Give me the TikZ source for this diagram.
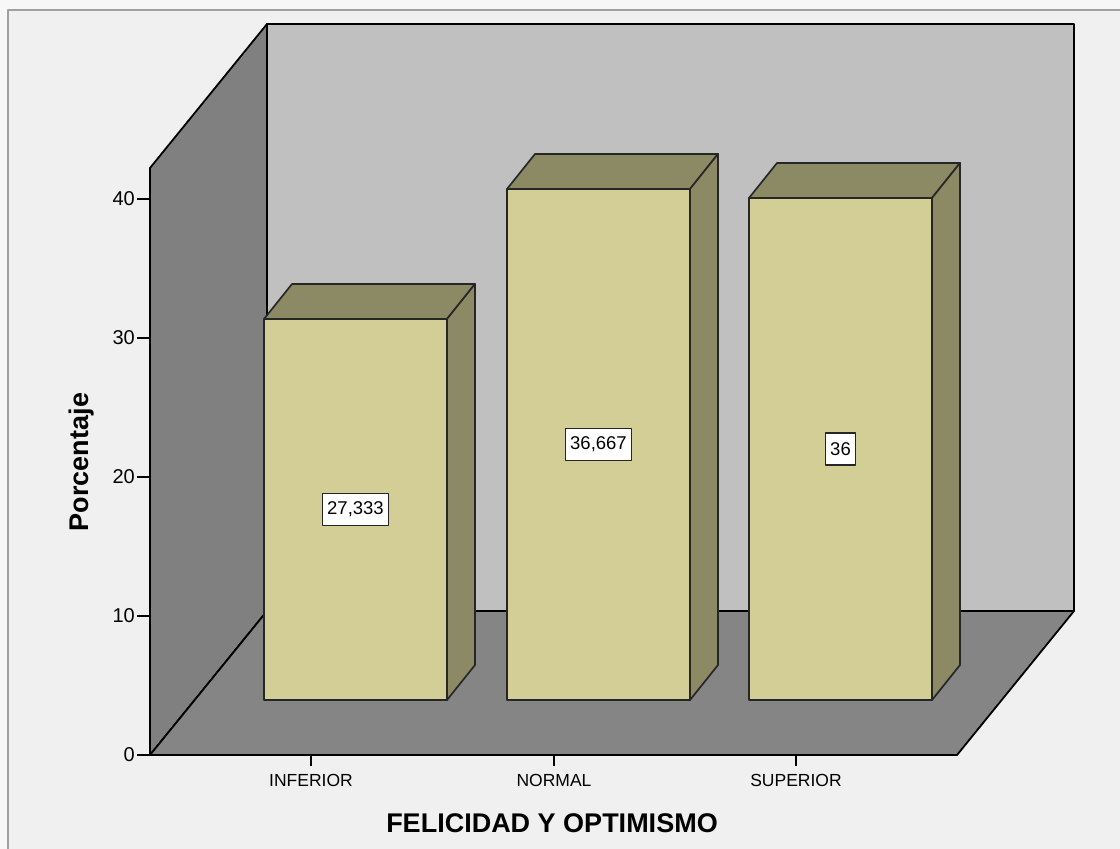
\documentclass[tikz,border=0pt]{standalone}
\usepackage{fontspec}
\setmainfont{Liberation Sans}
\definecolor{outerbg}{HTML}{F7F7F7}
\definecolor{innerbg}{HTML}{F0F0F0}
\definecolor{framec}{HTML}{A0A0A0}
\definecolor{wallback}{HTML}{C0C0C0}
\definecolor{wallleft}{HTML}{808080}
\definecolor{floorc}{HTML}{858585}
\definecolor{barfront}{HTML}{D3CE96}
\definecolor{barside}{HTML}{8C8A65}
\newcommand{\mybar}[2]{%
  \filldraw[barface] (#1,#2) rectangle (#1+183,700);
  \filldraw[barshade] (#1,#2) -- ++(28,-35) -- ++(183,0) -- ++(-28,35) -- cycle;
  \filldraw[barshade] (#1+183,#2) -- ++(28,-35) -- (#1+211,665) -- (#1+183,700) -- cycle;
}
\begin{document}
\begin{tikzpicture}[x=1pt,y=-1pt,line join=round,
  edge/.style={draw=black,line width=1.8pt},
  barface/.style={fill=barfront,draw=black!85,line width=1.7pt},
  barshade/.style={fill=barside,draw=black!85,line width=1.7pt},
  tickline/.style={draw=black,line width=1.5pt},
  numlabel/.style={font=\fontsize{20}{23}\selectfont,anchor=east,inner sep=0pt},
  catlabel/.style={font=\fontsize{17.5}{20}\selectfont,inner sep=0pt},
  vallabel/.style={draw=black!85,fill=white,line width=1.4pt,inner xsep=5pt,inner ysep=0pt,minimum height=32pt,font=\fontsize{18.5}{21}\selectfont},
  axtitle/.style={font=\bfseries\fontsize{27}{30}\selectfont,inner sep=0pt}]
\useasboundingbox (0,0) rectangle (1120,849);
\fill[outerbg] (0,0) rectangle (1120,849);
\fill[innerbg] (8,10) rectangle (1120,849);
\draw[framec,line width=2pt] (1121,10) -- (8,10) -- (8,850);
% walls and floor
\filldraw[fill=wallback,edge] (267,24) rectangle (1074,611);
\filldraw[fill=wallleft,edge] (150,168) -- (267,24) -- (267,611) -- (150,755) -- cycle;
\filldraw[fill=floorc,edge] (150,755) -- (267,611) -- (1074,611) -- (957,755) -- cycle;
% y ticks
\foreach \v/\yy in {0/755,10/616,20/477,30/338,40/199}{
  \draw[tickline] (137,\yy) -- (150,\yy);
  \node[numlabel] (y\v) at (135,\yy) {\v};
}
% x ticks
\foreach \xx/\lab/\nm in {311/INFERIOR/c1,554/NORMAL/c2,796/SUPERIOR/c3}{
  \draw[tickline] (\xx,755) -- (\xx,766);
  \node[catlabel] (\nm) at (\xx,780) {\lab};
}
% bars
\mybar{264}{319}
\mybar{507}{189}
\mybar{749}{198}
% value labels
\node[vallabel] (v1) at (355.5,509.5) {27,333};
\node[vallabel] (v2) at (598.5,444.5) {36,667};
\node[vallabel] (v3) at (840.5,449) {36};
% axis titles
\node[axtitle,rotate=90] (ytitle) at (82,462) {Porcentaje};
\node[axtitle] (xtitle) at (552,823) {FELICIDAD Y OPTIMISMO};
\end{tikzpicture}
\end{document}
